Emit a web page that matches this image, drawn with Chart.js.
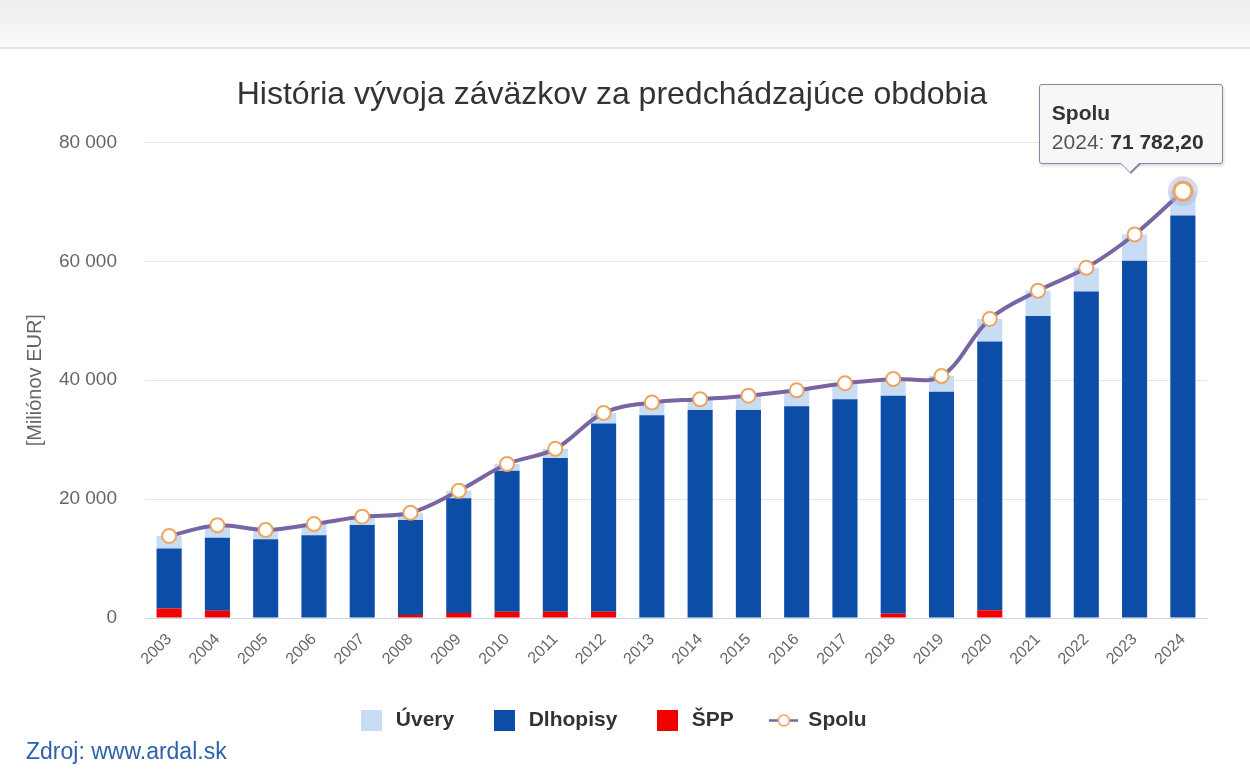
<!DOCTYPE html>
<html>
<head>
<meta charset="utf-8">
<script src="https://cdn.jsdelivr.net/npm/chart.js@4.4.1/dist/chart.umd.min.js"></script>
<style>
html,body{margin:0;padding:0;background:#fff;width:1250px;height:775px;overflow:hidden;font-family:"Liberation Sans",Arial,sans-serif;}
#band{position:absolute;left:0;top:0;width:1250px;height:47px;background:linear-gradient(#ececec,#fafafa);border-bottom:2px solid #e2e2e2;}
#wrap{position:absolute;left:0;top:0;width:1218px;height:775px;}
#src{position:absolute;left:26px;top:738px;font-size:23px;color:#2d62ad;white-space:nowrap;}
#tip{position:absolute;display:none;box-sizing:border-box;width:184px;height:80px;background:#f7f7f7;border:1.5px solid #8d82a8;border-radius:3px;box-shadow:1px 2px 3px rgba(0,0,0,0.15);padding:13px 0 0 12px;font-size:21px;line-height:29px;color:#333;white-space:nowrap;}
#tip:before{content:"";position:absolute;left:50%;margin-left:-11px;bottom:-11px;border-left:11px solid transparent;border-right:11px solid transparent;border-top:11px solid #8d82a8;}
#tip:after{content:"";position:absolute;left:50%;margin-left:-9.5px;bottom:-9px;border-left:9.5px solid transparent;border-right:9.5px solid transparent;border-top:9.5px solid #f7f7f7;}
#tip .t{font-weight:bold;color:#333;}
#tip .l{color:#555;}
#tip .v{font-weight:bold;color:#333;}
</style>
</head>
<body>
<div id="band"></div>
<div id="wrap"><canvas id="c" width="1218" height="775"></canvas></div>
<div id="tip"></div>
<div id="src">Zdroj: www.ardal.sk</div>
<script>
const years = ['2003','2004','2005','2006','2007','2008','2009','2010','2011','2012','2013','2014','2015','2016','2017','2018','2019','2020','2021','2022','2023','2024'];
const uvery = [2100, 2100, 1550, 1900, 1400, 1200, 1250, 1150, 1550, 1800, 2150, 1800, 2400, 2700, 2700, 2800, 2650, 3800, 4250, 4000, 4400, 4082.2];
const dlhopisy = [10100, 12300, 13250, 13900, 15650, 16000, 19300, 23700, 25850, 31650, 34100, 35000, 35000, 35600, 36800, 36700, 38050, 45200, 50800, 54900, 60100, 67700];
const spp = [1600, 1200, 0, 0, 0, 500, 850, 1050, 1050, 1050, 0, 0, 0, 0, 0, 700, 0, 1300, 0, 0, 0, 0];
const spolu = [13800, 15600, 14800, 15800, 17050, 17700, 21400, 25900, 28450, 34500, 36250, 36800, 37400, 38300, 39500, 40200, 40700, 50300, 55050, 58900, 64500, 71782.2];
const yTicks = [0, 20000, 40000, 60000, 80000];
const titleText = 'História vývoja záväzkov za predchádzajúce obdobia';
const yTitle = '[Miliónov EUR]';
const labels = ['Úvery', 'Dlhopisy', 'ŠPP', 'Spolu'];

const C_UV = '#c8dcf4', C_DL = '#0c4ea7', C_SPP = '#f20000', C_LINE = '#7a65a4', C_PT = '#eda561';

function fmt(v, dec) {
  const neg = v < 0; v = Math.abs(v);
  let s = dec ? v.toFixed(dec) : String(Math.round(v));
  let [i, d] = s.split('.');
  i = i.replace(/\B(?=(\d{3})+(?!\d))/g, ' ');
  return (neg ? '-' : '') + i + (d ? ',' + d : '');
}

function boxIcon(color) {
  const c = document.createElement('canvas'); c.width = 21; c.height = 21;
  const x = c.getContext('2d'); x.fillStyle = color; x.fillRect(0, 0, 21, 21); return c;
}
function lineIcon() {
  const c = document.createElement('canvas'); c.width = 29; c.height = 15;
  const x = c.getContext('2d');
  x.strokeStyle = C_LINE; x.lineWidth = 2.5; x.beginPath(); x.moveTo(0, 7.5); x.lineTo(29, 7.5); x.stroke();
  x.beginPath(); x.arc(14.5, 7.5, 5.5, 0, Math.PI * 2); x.fillStyle = '#fff'; x.fill();
  x.strokeStyle = C_PT; x.lineWidth = 1.5; x.stroke();
  return c;
}
const icons = [boxIcon(C_UV), boxIcon(C_DL), boxIcon(C_SPP), lineIcon()];

const haloPlugin = {
  id: 'halo',
  afterDatasetsDraw(chart) {
    const act = chart.getActiveElements();
    const ctx = chart.ctx;
    act.forEach(a => {
      const el = a.element;
      ctx.save();
      ctx.beginPath(); ctx.arc(el.x, el.y, 15, 0, Math.PI * 2);
      ctx.fillStyle = 'rgba(178,188,228,0.55)'; ctx.fill();
      ctx.restore();
      el.draw(ctx, chart.chartArea);
    });
  }
};

function externalTip(context) {
  const tip = document.getElementById('tip');
  const t = context.tooltip;
  if (!t || t.opacity === 0 || !t.dataPoints || !t.dataPoints.length) { tip.style.display = 'none'; return; }
  const dp = t.dataPoints[0];
  tip.innerHTML = '<div class="t">' + dp.dataset.label + '</div><div><span class="l">' + dp.label + ': </span><span class="v">' + fmt(dp.raw, 2) + '</span></div>';
  const cx = context.chart.canvas.offsetLeft + t.caretX - 52;
  const cy = context.chart.canvas.offsetTop + t.caretY;
  tip.style.display = 'block';
  tip.style.left = (cx - 92) + 'px';
  tip.style.top = (cy - 107) + 'px';
}

const chart = new Chart(document.getElementById('c'), {
  data: {
    labels: years,
    datasets: [
      { type: 'bar', label: labels[0], data: uvery, backgroundColor: C_UV, stack: 'bars', order: 3, barPercentage: 0.52, categoryPercentage: 1 },
      { type: 'bar', label: labels[1], data: dlhopisy, backgroundColor: C_DL, stack: 'bars', order: 2, barPercentage: 0.52, categoryPercentage: 1 },
      { type: 'bar', label: labels[2], data: spp, backgroundColor: C_SPP, stack: 'bars', order: 1, barPercentage: 0.52, categoryPercentage: 1 },
      { type: 'line', label: labels[3], data: spolu, stack: 'line', order: 0, borderColor: C_LINE, borderWidth: 4, tension: 0.35,
        pointRadius: 7, pointBackgroundColor: '#fff', pointBorderColor: C_PT, pointBorderWidth: 2,
        pointHoverRadius: 9, pointHoverBackgroundColor: '#fff', pointHoverBorderColor: C_PT, pointHoverBorderWidth: 3 }
    ]
  },
  options: {
    responsive: false,
    animation: false,
    devicePixelRatio: 1,
    events: [],
    layout: { padding: { left: 6, right: 0, top: 0, bottom: 34 } },
    plugins: {
      title: { display: true, text: titleText, color: '#333', font: { family: '"Liberation Sans", Arial, sans-serif', size: 32, weight: 'normal' }, padding: { top: 76, bottom: 28 } },
      legend: {
        position: 'bottom',
        labels: {
          usePointStyle: true, pointStyleWidth: 28, padding: 36, color: '#333',
          font: { family: '"Liberation Sans", Arial, sans-serif', size: 21, weight: 'bold' },
          generateLabels: (ch) => labels.map((l, i) => ({ text: l, pointStyle: icons[i], fillStyle: 'transparent', strokeStyle: 'transparent', lineWidth: 0, hidden: false, datasetIndex: i, fontColor: '#333' }))
        }
      },
      tooltip: { enabled: false, external: externalTip, mode: 'nearest', intersect: true }
    },
    scales: {
      x: {
        stacked: true,
        grid: { display: false },
        border: { display: true, color: '#ccd6eb', width: 1 },
        ticks: { color: '#666', font: { family: '"Liberation Sans", Arial, sans-serif', size: 16 }, minRotation: 45, maxRotation: 45, padding: 4, autoSkip: false },
        afterFit: (s) => { s.height = 56; }
      },
      y: {
        stacked: true,
        min: 0, max: 80000,
        afterBuildTicks: (s) => { s.ticks = yTicks.map(v => ({ value: v })); },
        grid: { color: '#e6e6e6', lineWidth: 1, drawTicks: false },
        border: { display: false },
        ticks: { color: '#666', font: { family: '"Liberation Sans", Arial, sans-serif', size: 19 }, padding: 28, callback: (v) => fmt(v, 0) },
        title: { display: true, text: yTitle, color: '#666', font: { family: '"Liberation Sans", Arial, sans-serif', size: 20 }, padding: { top: 17, bottom: 0 } },
        afterFit: (s) => { s.width = 139; }
      }
    }
  },
  plugins: [haloPlugin]
});

const act = [{ datasetIndex: 3, index: 21 }];
chart.setActiveElements(act);
const el = chart.getDatasetMeta(3).data[21];
chart.tooltip.setActiveElements(act, { x: el.x, y: el.y });
chart.update();
</script>
</body>
</html>
